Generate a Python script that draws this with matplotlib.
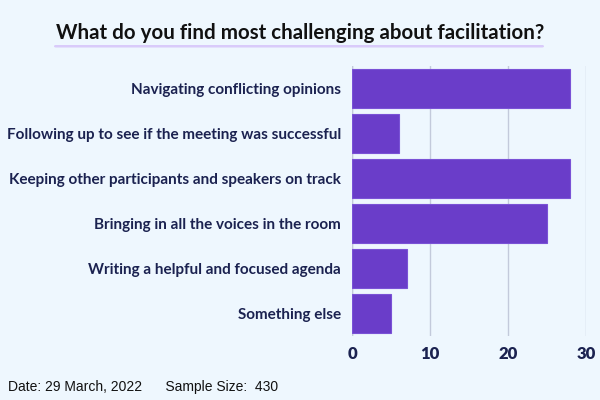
import matplotlib.pyplot as plt
from matplotlib.patches import FancyBboxPatch

categories = [
    "Navigating conflicting opinions",
    "Following up to see if the meeting was successful",
    "Keeping other participants and speakers on track",
    "Bringing in all the voices in the room",
    "Writing a helpful and focused agenda",
    "Something else",
]
values = [28, 6, 28, 25, 7, 5]
xticks = [0, 10, 20, 30]

bg = "#eef7fe"
navy = "#1b2250"
purple = "#6a3dc9"

fig = plt.figure(figsize=(6, 4), dpi=100, facecolor=bg)
ax = fig.add_axes([352 / 600, 1 - 336 / 400, 234 / 600, 270 / 400])
ax.set_facecolor(bg)

ypos = list(range(len(categories)))
ax.barh(ypos, values, height=0.87, color=purple, edgecolor="#7a52d6", linewidth=0.8, zorder=3)
ax.set_ylim(len(categories) - 0.5, -0.5)
ax.set_xlim(0, 30)
ax.set_yticks(ypos)
ax.set_yticklabels(categories, fontfamily="Lato", fontweight="bold", fontsize=11, color=navy)
ax.set_xticks(xticks)
ax.set_xticklabels([str(t) for t in xticks], fontfamily="Lato", fontweight="heavy", fontsize=12, color=navy)
ax.tick_params(axis="both", length=0)
ax.tick_params(axis="y", pad=8)
ax.tick_params(axis="x", pad=7)
ax.grid(axis="x", color="#c3cadb", linewidth=1, zorder=0)
for s in ax.spines.values():
    s.set_visible(False)
ax.axvline(0, color="#c3cadb", linewidth=1, zorder=1)

# title with highlight underline
fig.patches.append(FancyBboxPatch((54 / 600, 1 - 47.5 / 400), 490 / 600, 2.5 / 400,
                                  boxstyle="round,pad=0,rounding_size=0.003",
                                  transform=fig.transFigure, facecolor="#d9cbfa",
                                  edgecolor="none", zorder=0))
fig.text(0.5, 1 - 33 / 400, "What do you find most challenging about facilitation?",
         ha="center", va="center", fontfamily="Lato", fontweight="bold", fontsize=14.8, color="#111111")

fig.text(8 / 600, 1 - 387 / 400, "Date: 29 March, 2022      Sample Size:  430",
         ha="left", va="center", fontfamily="Liberation Sans", fontsize=10, color="#111111")

fig.savefig("out.png", dpi=100, facecolor=bg)
